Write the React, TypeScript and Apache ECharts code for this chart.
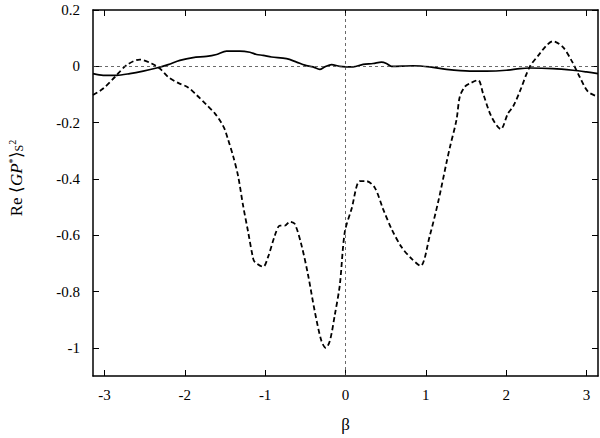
import React, { useEffect, useRef } from "react";
import * as echarts from "echarts";

// Dashed curve (β, value)
const betaDashed = [-3.1416, -3.015, -2.869, -2.724, -2.558, -2.413, -2.31, -2.206, -2.082, -1.958, -1.853, -1.729, -1.626, -1.542, -1.501, -1.46, -1.398, -1.336, -1.274, -1.211, -1.149, -1.128, -1.025, -0.963, -0.879, -0.817, -0.755, -0.693, -0.631, -0.547, -0.465, -0.382, -0.299, -0.245, -0.195, -0.133, -0.071, -0.009, 0.075, 0.178, 0.261, 0.364, 0.468, 0.572, 0.697, 0.821, 0.933, 1.049, 1.152, 1.256, 1.297, 1.381, 1.422, 1.484, 1.546, 1.649, 1.711, 1.816, 1.932, 2.022, 2.085, 2.168, 2.292, 2.417, 2.5, 2.582, 2.706, 2.811, 2.914, 3.017, 3.1416];
const valDashed = [-0.102, -0.079, -0.038, 0.004, 0.024, 0.01, -0.008, -0.038, -0.059, -0.075, -0.102, -0.137, -0.167, -0.202, -0.225, -0.261, -0.319, -0.39, -0.495, -0.589, -0.683, -0.695, -0.712, -0.677, -0.601, -0.566, -0.566, -0.552, -0.56, -0.636, -0.742, -0.871, -0.976, -1.0, -0.976, -0.883, -0.777, -0.589, -0.507, -0.408, -0.408, -0.431, -0.507, -0.577, -0.642, -0.683, -0.709, -0.601, -0.483, -0.343, -0.29, -0.19, -0.108, -0.073, -0.061, -0.049, -0.096, -0.179, -0.223, -0.167, -0.143, -0.09, -0.002, 0.045, 0.074, 0.089, 0.068, 0.021, -0.038, -0.09, -0.108];

// Solid curve (β, value)
const betaSolid = [-3.1416, -3.015, -2.848, -2.683, -2.517, -2.351, -2.206, -2.061, -1.896, -1.729, -1.604, -1.48, -1.315, -1.19, -1.107, -1.025, -0.92, -0.734, -0.609, -0.506, -0.403, -0.32, -0.257, -0.174, -0.071, 0.095, 0.219, 0.343, 0.448, 0.51, 0.572, 0.841, 1.049, 1.256, 1.546, 1.754, 2.002, 2.168, 2.292, 2.582, 2.831, 2.998, 3.1416];
const valSolid = [-0.026, -0.032, -0.032, -0.026, -0.017, -0.006, 0.006, 0.021, 0.031, 0.035, 0.042, 0.054, 0.054, 0.05, 0.042, 0.039, 0.033, 0.027, 0.015, 0.004, -0.002, -0.011, -0.002, 0.006, 0.0, -0.002, 0.007, 0.01, 0.015, 0.01, 0.0, 0.002, -0.002, -0.011, -0.017, -0.017, -0.014, -0.008, -0.006, -0.008, -0.014, -0.02, -0.026];

const xTicks = [-3, -2, -1, 0, 1, 2, 3];
const yTicks = [-1, -0.8, -0.6, -0.4, -0.2, 0, 0.2];

const FONT = "'Times New Roman', Times, 'Liberation Serif', serif";

export default function App() {
  const ref = useRef<HTMLDivElement>(null);
  useEffect(() => {
    if (!ref.current) return;
    const chart = echarts.init(ref.current, undefined, { renderer: "svg" });
    const dashedData = betaDashed.map((b, i) => [b, valDashed[i]]);
    const solidData = betaSolid.map((b, i) => [b, valSolid[i]]);
    const axisLine = { show: true, onZero: false, lineStyle: { color: "#000", width: 1.5 } };
    const xBase = {
      type: "value" as const,
      min: -Math.PI,
      max: Math.PI,
      axisLine,
      axisTick: { show: true, inside: true, length: 6, customValues: xTicks, lineStyle: { color: "#000", width: 1 } },
      splitLine: { show: false },
    };
    const yBase = {
      type: "value" as const,
      min: -1.1,
      max: 0.2,
      axisLine,
      axisTick: { show: true, inside: true, length: 6, customValues: yTicks, lineStyle: { color: "#000", width: 1 } },
      splitLine: { show: false },
    };
    chart.setOption({
      animation: false,
      backgroundColor: "#fff",
      grid: { left: 93, right: 2, top: 10, bottom: 59, containLabel: false },
      xAxis: [
        {
          ...xBase,
          position: "bottom",
          name: "β",
          nameLocation: "middle",
          nameGap: 40,
          nameTextStyle: { fontFamily: FONT, fontSize: 17, color: "#000" },
          axisLabel: {
            show: true,
            customValues: xTicks,
            margin: 11,
            fontFamily: FONT,
            fontSize: 15,
            color: "#000",
            formatter: (v: number) => String(v),
          },
        },
        { ...xBase, position: "top", axisLabel: { show: false } },
      ],
      yAxis: [
        {
          ...yBase,
          position: "left",
          axisLabel: {
            show: true,
            customValues: yTicks,
            margin: 13,
            fontFamily: FONT,
            fontSize: 15,
            color: "#000",
            formatter: (v: number) => String(Math.round(v * 10) / 10),
          },
        },
        { ...yBase, position: "right", axisLabel: { show: false } },
      ],
      graphic: [
        {
          type: "text",
          x: 16,
          y: 178,
          rotation: Math.PI / 2,
          style: {
            text: "{a|Re ⟨}{i|GP}{s|*}{a|⟩}{sub|S}{s|2}",
            fill: "#000",
            align: "center",
            verticalAlign: "middle",
            rich: {
              a: { fontFamily: FONT, fontSize: 17, fill: "#000" },
              i: { fontFamily: FONT, fontSize: 17, fontStyle: "italic", fill: "#000" },
              s: { fontFamily: FONT, fontSize: 10, verticalAlign: "top", fill: "#000" },
              sub: { fontFamily: FONT, fontSize: 12, verticalAlign: "bottom", fill: "#000" },
            },
          },
        },
      ],
      series: [
        {
          type: "line",
          data: solidData,
          showSymbol: false,
          smooth: 0.3,
          lineStyle: { color: "#000", width: 1.7, type: "solid" },
          silent: true,
          z: 3,
          markLine: {
            silent: true,
            symbol: "none",
            label: { show: false },
            lineStyle: { color: "#444", width: 0.8, type: [3, 3] },
            data: [{ yAxis: 0 }, { xAxis: 0 }],
          },
        },
        {
          type: "line",
          data: dashedData,
          showSymbol: false,
          smooth: 0.3,
          lineStyle: { color: "#000", width: 1.8, type: [5, 3] },
          silent: true,
          z: 3,
        },
      ],
    });
    return () => chart.dispose();
  }, []);
  return (
    <div
      ref={ref}
      style={{ position: "fixed", left: 0, top: 0, width: 600, height: 438, background: "#fff" }}
    />
  );
}
